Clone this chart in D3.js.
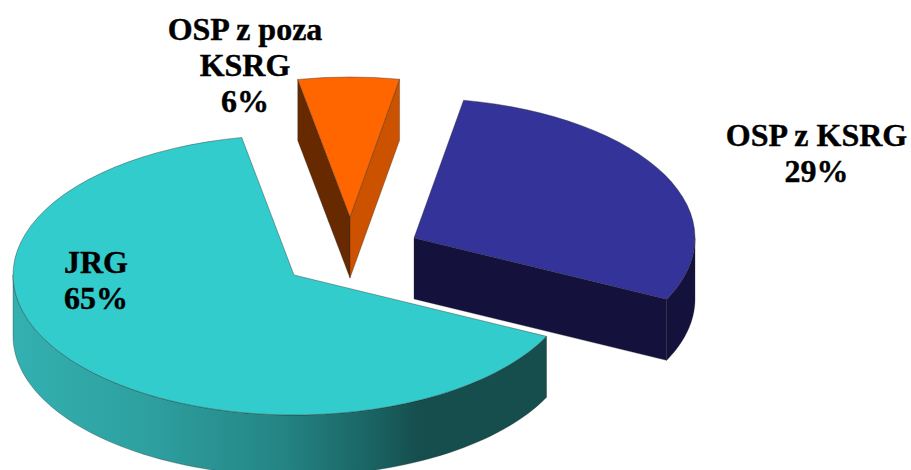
<!DOCTYPE html>
<html><head><meta charset="utf-8">
<style>html,body{margin:0;padding:0;background:#fff;overflow:hidden}svg{display:block}text{font-family:"Liberation Serif",serif;font-weight:bold;fill:#000;stroke:#000;stroke-width:0.4px}</style>
<script src="https://cdn.jsdelivr.net/npm/d3@7/dist/d3.min.js"></script>
</head><body><svg id="c" width="911" height="470"></svg>
<script>
const categories = ["JRG", "OSP z poza KSRG", "OSP z KSRG"];
const values = [64.8, 5.8, 29.4];
const valueLabels = ["65%", "6%", "29%"];

const W = 911, H = 470, RX = 281, RY = 140, DEPTH = 61, TAU = 2 * Math.PI, START = 116 * Math.PI / 180;
const centers = [[294, 275], [350, 217], [414, 238]];
const topColors = ["#33CCCC", "#FF6600", "#333399"];
const startCut = [null, "#662900", null];
const endCut = [null, "#CC5200", "#14123D"];
const wallColors = ["url(#teal)", null, "#14123D"];
const labelLines = [[["JRG", 64, 273], ["65%", 64, 309]], [["OSP z poza", 245, 40], ["KSRG", 245, 76], ["6%", 245, 112]], [["OSP z KSRG", 816.5, 146], ["29%", 816.5, 182]]];
const anchors = ["start", "middle", "middle"];

const svg = d3.select("#c");
const defs = svg.append("defs");
const grad = defs.append("linearGradient").attr("id", "teal").attr("gradientUnits", "userSpaceOnUse")
  .attr("x1", 13).attr("x2", 546).attr("y1", 0).attr("y2", 0);
[[0, "#33B0B0"], [0.25, "#2EA0A0"], [0.5, "#258585"], [0.68, "#1A6262"], [0.76, "#164E4E"], [1, "#164E4E"]]
  .forEach(s => grad.append("stop").attr("offset", s[0]).attr("stop-color", s[1]));

const pie = d3.pie().sort(null).startAngle(START).endAngle(START + TAU);
const arcs = pie(values);
const arcGen = d3.arc().innerRadius(0).outerRadius(RX);
const sy = RY / RX;
const px = (c, a) => c[0] + RX * Math.sin(a);
const py = (c, a, z = 0) => c[1] - RY * Math.cos(a) + z;
const poly = d3.line();

function wall(c, a0, a1, fill) {
  const n = 80, ang = d3.range(n + 1).map(i => a0 + (a1 - a0) * i / n);
  const pts = ang.map(a => [px(c, a), py(c, a)]).concat(ang.slice().reverse().map(a => [px(c, a), py(c, a, DEPTH)]));
  svg.append("path").attr("d", poly(pts) + "Z").attr("fill", fill).attr("stroke", "#222").attr("stroke-width", 0.5).attr("stroke-opacity", 0.6);
}
function cut(c, a, fill) {
  const pts = [[c[0], c[1]], [px(c, a), py(c, a)], [px(c, a), py(c, a, DEPTH)], [c[0], c[1] + DEPTH]];
  svg.append("path").attr("d", poly(pts) + "Z").attr("fill", fill).attr("stroke", "#222").attr("stroke-width", 0.5).attr("stroke-opacity", 0.6);
}

arcs.forEach((d, i) => {
  const c = centers[i];
  if (startCut[i]) cut(c, d.startAngle, startCut[i]);
  if (endCut[i]) cut(c, d.endAngle, endCut[i]);
  if (wallColors[i]) {
    const shift = d.startAngle >= TAU ? TAU : 0;
    const a0 = Math.max(d.startAngle - shift, Math.PI / 2), a1 = Math.min(d.endAngle - shift, 3 * Math.PI / 2);
    if (a1 > a0) wall(c, a0, a1, wallColors[i]);
  }
  // d3.arc measures from 12 o'clock clockwise like the projection; the slice is squashed into an ellipse
  svg.append("path").attr("d", arcGen(d))
    .attr("transform", `translate(${c[0]},${c[1]}) scale(1,${sy})`)
    .attr("fill", topColors[i]).attr("stroke", "#222").attr("stroke-width", 0.7).attr("stroke-opacity", 0.7);
});

labelLines.forEach((lines, i) => lines.forEach(l => {
  svg.append("text").attr("x", l[1]).attr("y", l[2]).attr("text-anchor", anchors[i]).attr("font-size", 32).text(l[0]);
}));
</script></body></html>
